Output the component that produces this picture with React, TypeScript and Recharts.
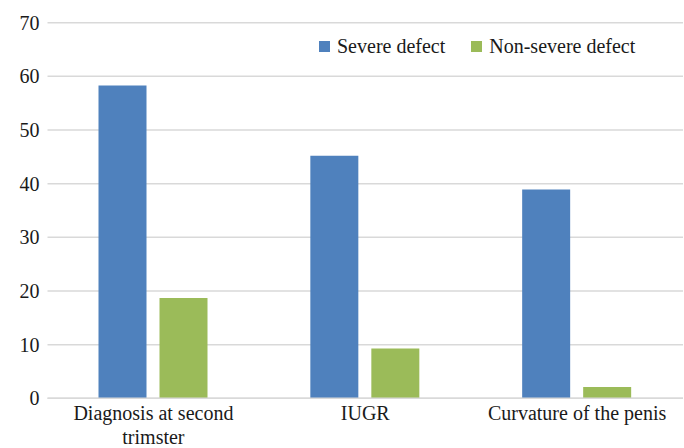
import React from 'react';
import { BarChart, Bar, XAxis, YAxis, CartesianGrid } from 'recharts';

const categories = ['Diagnosis at second\ntrimster', 'IUGR', 'Curvature of the penis'];
const severeValues = [58.3, 45.2, 38.9];
const nonSevereValues = [18.7, 9.3, 2.1];
const seriesNames = ['Severe defect', 'Non-severe defect'];
const yTicks = [0, 10, 20, 30, 40, 50, 60, 70];

const FONT = '"Liberation Serif", "Times New Roman", serif';
const BLUE = '#4F81BD';
const GREEN = '#9BBB59';
const seriesColors = [BLUE, GREEN];

const data = categories.map((name, i) => ({
  name,
  severe: severeValues[i],
  nonSevere: nonSevereValues[i],
}));

const CategoryTick = (props: any) => {
  const { x, y, payload } = props;
  const lines = String(payload.value).split('\n');
  return (
    <text
      x={x}
      y={y}
      textAnchor="middle"
      fill="#1a1a1a"
      style={{ fontFamily: FONT, fontSize: 20 }}
    >
      {lines.map((line, i) => (
        <tspan key={i} x={x} dy={i === 0 ? 14 : 24}>
          {line}
        </tspan>
      ))}
    </text>
  );
};

export default function App() {
  return (
    <div style={{ position: 'absolute', left: 0, top: 0, width: 684, height: 448, background: '#fff' }}>
      <BarChart
        width={684}
        height={448}
        data={data}
        margin={{ top: 22.7, right: 1, bottom: 0, left: 0 }}
        barSize={48}
        barGap={13}
      >
        <CartesianGrid vertical={false} stroke="#d9d9d9" strokeWidth={1.5} />
        <XAxis
          dataKey="name"
          axisLine={{ stroke: '#d9d9d9', strokeWidth: 1.5 }}
          tickLine={false}
          height={49.7}
          interval={0}
          tick={<CategoryTick />}
        />
        <YAxis
          width={47.5}
          domain={[0, 70]}
          ticks={yTicks}
          axisLine={false}
          tickLine={false}
          tick={{ fontFamily: FONT, fontSize: 20, fill: '#1a1a1a' }}
        />
        <Bar dataKey="severe" name={seriesNames[0]} fill={BLUE} isAnimationActive={false} />
        <Bar dataKey="nonSevere" name={seriesNames[1]} fill={GREEN} isAnimationActive={false} />
      </BarChart>
      <div
        style={{
          position: 'absolute',
          top: 35,
          left: 319,
          display: 'flex',
          alignItems: 'center',
          fontFamily: FONT,
          fontSize: 20,
          lineHeight: '22px',
          color: '#1a1a1a',
        }}
      >
        {seriesNames.map((name, i) => (
          <div key={name} style={{ display: 'flex', alignItems: 'center', marginRight: i === 0 ? 26 : 0 }}>
            <span style={{ width: 11, height: 11, background: seriesColors[i], marginRight: 7, display: 'inline-block' }} />
            <span>{name}</span>
          </div>
        ))}
      </div>
    </div>
  );
}
